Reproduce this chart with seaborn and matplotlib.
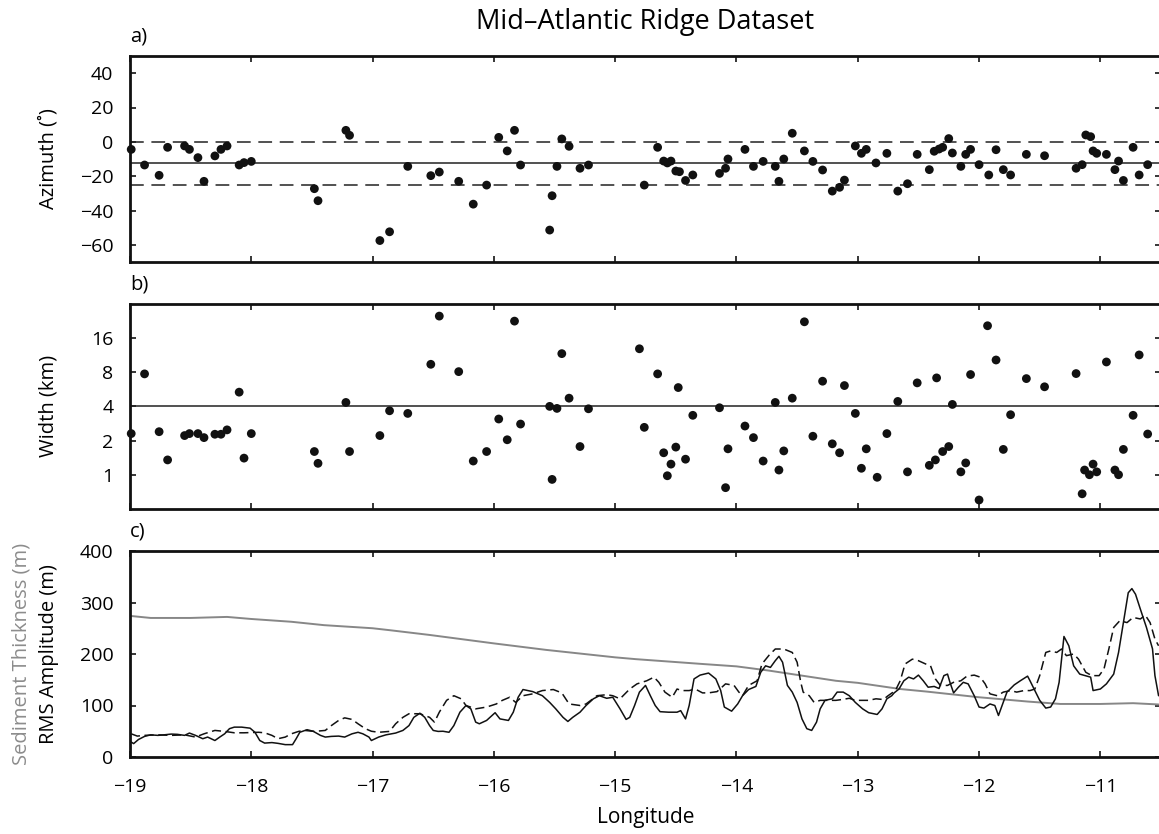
import numpy as np
import pandas as pd
import matplotlib
matplotlib.use("Agg")
import matplotlib.pyplot as plt
import seaborn as sns

# ---- panel a: ridge segment azimuths ----
lon_a = [-18.99, -18.88, -18.76, -18.69, -18.55, -18.51, -18.44, -18.39, -18.30, -18.25,
         -18.20, -18.10, -18.06, -18.00, -17.48, -17.45, -17.22, -17.19, -16.94, -16.86,
         -16.71, -16.52, -16.45, -16.29, -16.17, -16.06, -15.96, -15.89, -15.83, -15.78,
         -15.54, -15.52, -15.48, -15.44, -15.38, -15.29, -15.22,
         -14.76, -14.65, -14.60, -14.57, -14.54, -14.50, -14.47, -14.42, -14.36, -14.14,
         -14.09, -14.07, -13.93, -13.86, -13.78, -13.68, -13.65, -13.61, -13.54, -13.44,
         -13.37, -13.29, -13.21, -13.15, -13.11, -13.02, -12.97, -12.93, -12.85, -12.76,
         -12.67, -12.59, -12.51, -12.41, -12.37, -12.33, -12.30, -12.25, -12.22, -12.15,
         -12.11, -12.07, -12.00, -11.92, -11.86, -11.80, -11.74, -11.61, -11.46, -11.20,
         -11.15, -11.12, -11.08, -11.06, -11.03, -10.95, -10.88, -10.85, -10.81, -10.73,
         -10.68, -10.61]
azimuth = [-4.4, -13.5, -19.5, -3.2, -2.4, -4.4, -9.2, -23.0, -8.2, -4.4,
           -2.4, -13.5, -12.1, -11.4, -27.3, -34.3, 6.7, 3.8, -57.5, -52.4,
           -14.3, -19.7, -17.6, -23.0, -36.3, -25.2, 2.6, -5.3, 6.7, -13.5,
           -51.4, -31.4, -14.3, 1.7, -2.6, -15.4, -13.5,
           -25.2, -3.2, -11.2, -12.3, -11.2, -17.0, -17.4, -22.5, -19.3, -18.4,
           -15.4, -10.0, -4.4, -14.3, -11.4, -14.3, -23.0, -10.0, 5.0, -5.3,
           -11.4, -16.4, -28.7, -26.5, -22.3, -2.4, -6.7, -4.4, -12.3, -6.7,
           -28.7, -24.4, -7.3, -16.2, -5.5, -4.2, -3.2, 1.9, -6.5, -14.3,
           -7.3, -4.4, -13.3, -19.3, -4.6, -16.2, -19.3, -7.3, -8.1, -15.4,
           -13.3, 4.0, 3.0, -5.3, -6.7, -7.3, -16.2, -11.2, -22.5, -3.2,
           -19.3, -13.3]
az_mean = -12.5
az_band = [0, -25]

# ---- panel b: widths ----
lon_b = [-18.99, -18.88, -18.76, -18.69, -18.55, -18.51, -18.44, -18.39, -18.30, -18.25,
         -18.20, -18.10, -18.06, -18.00, -17.48, -17.45, -17.22, -17.19, -16.94, -16.86,
         -16.71, -16.52, -16.45, -16.29, -16.17, -16.06, -15.96, -15.89, -15.83, -15.78,
         -15.54, -15.52, -15.48, -15.44, -15.38, -15.29, -15.22,
         -14.80, -14.76, -14.65, -14.60, -14.57, -14.54, -14.50, -14.48, -14.42, -14.36,
         -14.14, -14.09, -14.07, -13.93, -13.86, -13.78, -13.68, -13.65, -13.61, -13.54,
         -13.44, -13.37, -13.29, -13.21, -13.15, -13.11, -13.02, -12.97, -12.93, -12.84,
         -12.76, -12.67, -12.59, -12.51, -12.41, -12.36, -12.35, -12.30, -12.25, -12.22,
         -12.15, -12.11, -12.07, -12.00, -11.93, -11.86, -11.80, -11.74, -11.61, -11.46,
         -11.20, -11.15, -11.13, -11.09, -11.06, -11.03, -10.95, -10.88, -10.85, -10.81,
         -10.73, -10.68, -10.61]
width = [2.30, 7.7, 2.39, 1.35, 2.21, 2.30, 2.30, 2.12, 2.27, 2.27,
         2.48, 5.32, 1.40, 2.30, 1.60, 1.26, 4.32, 1.60, 2.21, 3.65,
         3.46, 9.35, 24.8, 8.06, 1.32, 1.60, 3.09, 2.03, 22.4, 2.79,
         3.99, 0.91, 3.83, 11.6, 4.71, 1.77, 3.80,
         12.8, 2.61, 7.7, 1.56, 0.98, 1.24, 1.75, 5.84, 1.37, 3.33,
         3.88, 0.77, 1.69, 2.68, 2.12, 1.32, 4.32, 1.10, 1.62, 4.71,
         22.1, 2.18, 6.64, 1.87, 1.56, 6.08, 3.46, 1.14, 1.69, 0.95,
         2.30, 4.41, 1.06, 6.42, 1.21, 1.35, 7.1, 1.60, 1.77, 4.15,
         1.06, 1.27, 7.6, 0.60, 20.4, 10.2, 1.67, 3.37, 7.0, 5.93,
         7.75, 0.68, 1.10, 1.0, 1.24, 1.06, 9.8, 1.10, 1.0, 1.67,
         3.33, 11.3, 2.28]
width_mean = 4
width_ticks = [1, 2, 4, 8, 16]

# ---- panel c: RMS amplitude (solid), second RMS estimate (dashed), sediment ----
rms_lon = [-18.99, -18.97, -18.93, -18.88, -18.83, -18.77, -18.72, -18.66, -18.61, -18.55,
           -18.51, -18.46, -18.40, -18.36, -18.30, -18.26, -18.22, -18.18, -18.14, -18.08,
           -18.01, -17.97, -17.93, -17.89, -17.83, -17.78, -17.72, -17.66, -17.63, -17.60,
           -17.54, -17.49, -17.43, -17.39, -17.34, -17.28, -17.23, -17.17, -17.12, -17.08,
           -17.03, -17.01, -16.95,
           -16.89, -16.81, -16.75, -16.70, -16.66, -16.61, -16.57, -16.53, -16.50, -16.46,
           -16.42, -16.37, -16.33, -16.28, -16.23, -16.19, -16.15, -16.12, -16.06, -15.99,
           -15.95, -15.88, -15.84, -15.80, -15.76, -15.68, -15.60, -15.54, -15.49, -15.43,
           -15.39, -15.35, -15.29, -15.24, -15.18, -15.13, -15.07, -15.02, -14.96, -14.91,
           -14.88, -14.84, -14.80,
           -14.75, -14.71, -14.67, -14.63, -14.56, -14.49, -14.46, -14.42, -14.39, -14.35,
           -14.30, -14.23, -14.17, -14.13, -14.10, -14.04, -13.99, -13.95, -13.90, -13.84,
           -13.80, -13.76, -13.72, -13.68, -13.65, -13.62, -13.58, -13.54, -13.50, -13.46,
           -13.42, -13.38, -13.34, -13.31, -13.27, -13.21, -13.17, -13.12, -13.07, -13.02,
           -12.96, -12.91, -12.84, -12.80, -12.76, -12.72,
           -12.70, -12.66, -12.62, -12.58, -12.54, -12.50, -12.46, -12.42, -12.37, -12.33,
           -12.29, -12.26, -12.24, -12.21, -12.17, -12.13, -12.09, -12.04, -12.00, -11.96,
           -11.91, -11.87, -11.84, -11.81, -11.77, -11.71, -11.66, -11.60, -11.58, -11.54,
           -11.50, -11.45, -11.41, -11.37, -11.34, -11.30, -11.26, -11.22, -11.17, -11.08,
           -11.06, -11.00, -10.95, -10.89, -10.85, -10.81, -10.77, -10.74, -10.71, -10.67,
           -10.62, -10.57, -10.55, -10.52]
rms = [29, 26, 34, 40, 43, 42, 43, 44.5, 44, 42,
       46.5, 42, 35.5, 38.7, 32, 38.7, 45, 55, 58, 58,
       56, 48, 32, 27, 28, 26.5, 24, 24, 35.5, 48,
       53, 50, 42, 38.7, 40, 40.6, 38.7, 45, 48, 45,
       38.7, 32, 38.7,
       43, 46.5, 51.6, 61, 77, 85, 77, 61, 51.6, 49.7,
       50, 48, 61, 87, 100, 93.5, 67.7, 64.5, 71, 86,
       74, 71, 87, 116, 131, 127, 119, 106, 93.5, 77,
       69, 77, 87, 100, 113, 119, 114, 116, 93.5, 73,
       77, 100, 126,
       139, 119, 100, 88, 87, 87, 90, 74, 100, 151.6,
       159, 163, 151.6, 129, 97, 89, 103, 119, 131, 137,
       164.5, 177, 174, 187, 195.5, 184, 139, 126, 106, 74,
       55, 51.6, 67.7, 93.5, 110, 113, 126, 126, 119, 106,
       93.5, 86, 82.6, 93.5, 113, 119,
       124.5, 132, 148, 155, 151.6, 159, 148, 135.5, 137, 133,
       158, 161, 145, 124.5, 135.5, 145, 142, 119, 97, 95,
       103, 100, 80.6, 100, 126, 140, 148, 157, 148, 129,
       110, 95, 97, 113, 145, 234, 216, 177, 161, 155,
       129, 132, 142, 161, 203, 261, 319, 327, 316, 287,
       251.6, 210, 158, 119]

rms2_lon = [-18.99, -18.94, -18.88, -18.77, -18.66, -18.55, -18.46, -18.39, -18.30, -18.22,
            -18.14, -18.06, -17.94, -17.89, -17.83, -17.78, -17.72, -17.67, -17.61, -17.56,
            -17.48, -17.39, -17.34, -17.28, -17.23, -17.17, -17.12, -17.06, -17.01, -16.95,
            -16.86, -16.81, -16.75, -16.70, -16.61, -16.53, -16.49, -16.45, -16.39, -16.33,
            -16.27, -16.23, -16.15, -16.06, -15.98, -15.93, -15.87, -15.82, -15.76, -15.68,
            -15.60, -15.51, -15.44, -15.38, -15.29, -15.24, -15.15, -15.07, -15.02, -14.96,
            -14.88, -14.82,
            -14.78, -14.74, -14.68, -14.64, -14.59, -14.53, -14.49, -14.45, -14.39, -14.34,
            -14.28, -14.23, -14.16, -14.09, -14.02, -13.98, -13.95, -13.90, -13.83, -13.79,
            -13.73, -13.68, -13.61, -13.54, -13.50, -13.47, -13.45, -13.40, -13.36, -13.31,
            -13.24, -13.18, -13.13, -13.07, -13.02, -12.96, -12.91, -12.85, -12.79, -12.75,
            -12.69,
            -12.65, -12.61, -12.55, -12.50, -12.44, -12.40, -12.36, -12.32, -12.26, -12.21,
            -12.15, -12.10, -12.04, -11.99, -11.95, -11.91, -11.85, -11.80, -11.74, -11.69,
            -11.63, -11.58, -11.54, -11.50, -11.45, -11.41, -11.36, -11.32, -11.28, -11.22,
            -11.18, -11.12, -11.07, -11.01, -10.97, -10.93, -10.89, -10.84, -10.78, -10.73,
            -10.67, -10.63, -10.59, -10.55, -10.52]
rms2 = [45, 40.6, 42, 43, 42, 43, 38.7, 45, 51.6, 49.7,
        47, 47, 48, 47, 42, 35.5, 38.7, 45, 49.7, 51.6,
        49.7, 51.6, 61, 71, 76, 73, 64.5, 55, 50, 48,
        49.7, 64.5, 77, 84, 84, 77, 67.7, 87, 110, 119,
        113, 100, 93.5, 97, 103, 110, 116, 106, 119, 122.6,
        129, 131, 124.5, 103, 100, 103, 119, 121, 119, 113,
        132, 142,
        145, 148, 155, 145, 126, 116, 132, 129, 129, 132,
        124.5, 124.5, 127, 142, 139, 126, 119, 139, 148, 180.6,
        198, 209.7, 209.7, 203, 184, 145, 126, 119, 106, 110,
        110, 110, 111.6, 114, 110, 110, 110, 113, 111.6, 119,
        129,
        148, 180.6, 190, 187, 180.6, 177, 151.6, 139, 139, 145,
        148, 157, 159, 155, 142, 122.6, 119, 126, 129, 126,
        129, 129, 132, 158, 203, 206, 203, 209.7, 196.8, 200,
        190, 164.5, 158, 158, 171, 209.7, 251.6, 264.5, 261, 271,
        268, 275.5, 261, 229, 216]

sed_lon = [-19.0, -18.83, -18.5, -18.2, -18.0, -17.67, -17.4, -17.0, -16.85, -16.53,
           -16.0, -15.57, -15.0, -14.83, -14.28, -14.0, -13.73, -13.46, -13.18, -13.0,
           -12.65, -12.43, -12.0, -11.60, -11.33, -11.0, -10.73, -10.52]
sediment = [274, 270, 270, 272, 268, 262.6, 256, 250, 246, 237,
            220.6, 208, 193.5, 190, 180.6, 176, 167.7, 158, 148, 144,
            132, 127, 116, 107.7, 103, 103, 104.5, 102]

lon_ticks = list(range(-19, -10))

sns.set_style("ticks")
plt.rcParams['font.family'] = ['Open Sans', 'DejaVu Sans']
plt.rcParams.update({
    'font.size': 14,
    'text.color': 'black', 'axes.labelcolor': 'black',
    'xtick.color': 'black', 'ytick.color': 'black',
    'axes.linewidth': 2.0,
    'xtick.direction': 'in', 'ytick.direction': 'in',
    'xtick.top': True, 'ytick.right': True,
    'xtick.major.size': 4.2, 'ytick.major.size': 4.2,
    'xtick.major.width': 1.1, 'ytick.major.width': 1.1,
    'xtick.major.pad': 15, 'ytick.major.pad': 12,
    'xtick.labelsize': 14, 'ytick.labelsize': 14,
    'axes.edgecolor': '#111111',
    'axes.unicode_minus': True,
})

W, H = 1159, 834
fig = plt.figure(figsize=(W / 100, H / 100), dpi=100)


def box(top, bottom):
    return [130 / W, 1 - bottom / H, 1031 / W, (bottom - top) / H]


ax_a = fig.add_axes(box(56, 262))
ax_b = fig.add_axes(box(303.5, 509))
ax_c = fig.add_axes(box(551, 757))

dot = dict(color='#111111', s=40, edgecolor='none', clip_on=False, zorder=3)

# a) azimuth
df_a = pd.DataFrame({'lon': lon_a, 'azimuth': azimuth})
ax_a.axhline(az_mean, color='#222222', lw=1.1)
for v in az_band:
    ax_a.axhline(v, color='#222222', lw=1.1, linestyle=(0, (9, 5)))
sns.scatterplot(data=df_a, x='lon', y='azimuth', ax=ax_a, **dot)
ax_a.set_ylim(-70, 50)
ax_a.set_yticks(range(-60, 41, 20))

# b) width, log2 axis
df_b = pd.DataFrame({'lon': lon_b, 'width': width})
ax_b.axhline(width_mean, color='#222222', lw=1.1)
sns.scatterplot(data=df_b, x='lon', y='width', ax=ax_b, **dot)
ax_b.set_yscale('log', base=2)
ax_b.set_ylim(0.5, 32)
ax_b.set_yticks(width_ticks, [str(t) for t in width_ticks])
ax_b.minorticks_off()

# c) amplitude & sediment
sns.lineplot(x=sed_lon, y=sediment, ax=ax_c, color='#878787', lw=1.4,
             sort=False, estimator=None)
sns.lineplot(x=rms2_lon, y=rms2, ax=ax_c, color='#111111', lw=1.1,
             linestyle=(0, (6, 3)), sort=False, estimator=None)
sns.lineplot(x=rms_lon, y=rms, ax=ax_c, color='#111111', lw=1.1,
             sort=False, estimator=None)
ax_c.set_ylim(0, 400)
ax_c.set_yticks(range(0, 401, 100))

for ax, tag in zip([ax_a, ax_b, ax_c], ['a)', 'b)', 'c)']):
    ax.set_xlim(-19, -10.5)
    ax.set_xticks(lon_ticks)
    ax.set_xlabel('')
    ax.set_ylabel('')
    ax.text(0, 1.068, tag, transform=ax.transAxes, ha='left', va='baseline',
            fontsize=14.5)
ax_a.tick_params(labelbottom=False)
ax_b.tick_params(labelbottom=False)

ax_a.set_ylabel('Azimuth (˚)', fontsize=14.5)
ax_b.set_ylabel('Width (km)', fontsize=14.5)
ax_c.set_ylabel('RMS Amplitude (m)', fontsize=14.5)
for ax in (ax_a, ax_b, ax_c):
    ax.yaxis.set_label_coords(-0.069, 0.5)
ax_c.text(-0.105, 0.5, 'Sediment Thickness (m)', rotation=90, color='#8c8c8c',
          transform=ax_c.transAxes, ha='center', va='center', fontsize=14.5)
ax_c.set_xlabel('Longitude', fontsize=15, labelpad=8)

fig.text(645.5 / W, 1 - 29 / H, 'Mid–Atlantic Ridge Dataset', ha='center',
         va='baseline', fontsize=19.5)

fig.savefig('out.png', dpi=100)
